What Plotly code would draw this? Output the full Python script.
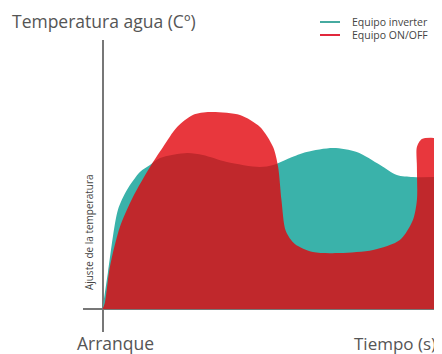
"""Temperatura agua: equipo inverter vs equipo ON/OFF."""

import plotly.graph_objects as go

# time axis (0 = arranque) and water temperature, arbitrary units
inverter_t = [0, 1.6, 4.6, 7.3, 11.2, 14.2, 17.2, 25.3, 30, 37.2, 47, 51, 56, 61, 69, 76, 83, 88, 92.8, 100]
inverter_temp = [0, 18, 49.5, 59.5, 68.5, 72, 75.5, 78, 77, 73.5, 71, 72, 75.5, 78.5, 80.5, 78.5, 72, 67, 66, 66]

onoff_t = [0, 0.7, 2.2, 5.2, 9.1, 14.2, 18.1, 22.3, 27, 32.1, 41.1, 47.1, 51, 52.5, 53.5, 54.8, 57.5,
           62.9, 71, 80.9, 88.9, 92.8, 94, 94, 94, 95.5, 100]
onoff_temp = [0, 3, 21, 41, 56, 71, 81, 91, 97, 98.5, 97, 91, 81, 71, 54.5, 39, 32.5,
              28.5, 28, 29.5, 34.5, 44.5, 54.5, 71, 81, 85, 85.5]

series_names = ["Equipo inverter", "Equipo ON/OFF"]
legend_colors = ["rgb(70,170,160)", "rgb(225,40,60)"]
TEAL = "rgb(58,178,170)"
RED = "rgba(226,5,13,0.8)"
GREY = "#555555"
FONT = "Open Sans"

# page is offset by the 8px body margin, so the figure is 8px smaller
W, H = 434, 346
L, T, B, R = 75, 32, 22, 2
PW, PH = W - L - R, H - T - B


def px(x):  # page pixel -> paper x
    return (x - 8 - L) / PW


def py(y):  # page pixel -> paper y
    return (8 + T + PH - y) / PH


fig = go.Figure()
fig.add_trace(go.Scatter(
    x=inverter_t, y=inverter_temp, mode="lines", fill="tozeroy",
    line=dict(shape="spline", smoothing=0.8, width=0, color=TEAL),
    fillcolor=TEAL, name=series_names[0], showlegend=False, hoverinfo="skip",
))
fig.add_trace(go.Scatter(
    x=onoff_t, y=onoff_temp, mode="lines", fill="tozeroy",
    line=dict(shape="spline", smoothing=0.8, width=0, color=RED),
    fillcolor=RED, name=series_names[1], showlegend=False, hoverinfo="skip",
))

# hand-made legend (short swatches like the original)
for i, (name, color) in enumerate(zip(series_names, legend_colors)):
    yy = 22 + 13 * i
    fig.add_shape(type="line", xref="paper", yref="paper",
                  x0=px(320), x1=px(340), y0=py(yy), y1=py(yy),
                  line=dict(color=color, width=2))
    fig.add_annotation(x=px(351), y=py(yy), xref="paper", yref="paper", text=name,
                       xanchor="left", yanchor="middle", showarrow=False, borderpad=0,
                       font=dict(size=10.5, color="#444"))

fig.add_annotation(x=-4, y=38.5, xref="x", yref="y", text="Ajuste de la temperatura",
                   textangle=-90, showarrow=False, font=dict(size=10, color="#444"))
fig.add_annotation(x=px(115), y=py(343), xref="paper", yref="paper", text="Arranque",
                   xanchor="center", yanchor="middle", showarrow=False,
                   font=dict(size=17.5, color=GREY))
fig.add_annotation(x=px(395), y=py(343), xref="paper", yref="paper", text="Tiempo (s)",
                   xanchor="center", yanchor="middle", showarrow=False,
                   font=dict(size=17, color=GREY))

fig.update_layout(
    width=W, height=H,
    margin=dict(l=L, r=R, t=T, b=B),
    paper_bgcolor="white", plot_bgcolor="white",
    font=dict(family=FONT, color=GREY),
    title=dict(text="Temperatura agua (Cº)", x=(12 - 8) / W, xanchor="left",
               y=1 - (22 - 8) / H, yanchor="middle", font=dict(size=17.5, color=GREY)),
    xaxis=dict(range=[-5.83, 100.9], showgrid=False, showticklabels=False, ticks="",
               zeroline=True, zerolinecolor="#777", zerolinewidth=1.5),
    yaxis=dict(range=[-11.5, 134.5], showgrid=False, showticklabels=False, ticks="",
               zeroline=True, zerolinecolor="#777", zerolinewidth=1.5),
    showlegend=False,
)

fig.write_html("out.html")
